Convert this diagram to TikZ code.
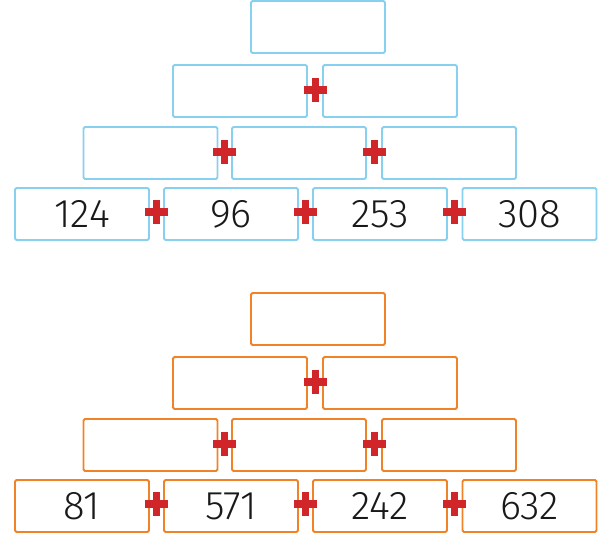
\documentclass[tikz,border=0pt]{standalone}
\usepackage{fontspec}
\setmainfont{Fira Sans Light}
\usetikzlibrary{calc}
\definecolor{boxblue}{RGB}{135,208,240}
\definecolor{boxorange}{RGB}{240,130,40}
\definecolor{plusred}{RGB}{208,38,42}
\tikzset{
  brick/.style={draw, line width=1.8pt, rounded corners=1.5pt, minimum width=134pt, minimum height=52pt, inner sep=0pt,
     font=\fontsize{40}{40}\selectfont, text=black!90},
  bluebrick/.style={brick, draw=boxblue},
  orangebrick/.style={brick, draw=boxorange},
  plussign/.pic={
    \fill[plusred] (-11.5pt,-4pt) rectangle (11.5pt,4pt);
    \fill[plusred] (-3.5pt,-12pt) rectangle (3.5pt,12pt);
  }
}
\begin{document}
\begin{tikzpicture}[x=1pt,y=-1pt]
\useasboundingbox (0,0) rectangle (599,537);
\foreach \g/\dy/\st/\a/\b/\c/\d in {b/0/bluebrick/124/96/253/308, o/292/orangebrick/81/571/242/632}{
  \node[\st] (\g00) at (318,27+\dy) {};
  \node[\st] (\g10) at (240,91+\dy) {};
  \node[\st] (\g11) at (390,91+\dy) {};
  \node[\st] (\g20) at (150.5,153+\dy) {};
  \node[\st] (\g21) at (299,153+\dy) {};
  \node[\st] (\g22) at (449,153+\dy) {};
  \node[\st] (\g30) at (82,214+\dy) {\a};
  \node[\st] (\g31) at (231,214+\dy) {\b};
  \node[\st] (\g32) at (380,214+\dy) {\c};
  \node[\st] (\g33) at (529.5,214+\dy) {\d};
  \coordinate (\g p10) at ($(\g10.east)!0.5!(\g11.west)+(0,-1)$);
  \coordinate (\g p20) at ($(\g20.east)!0.5!(\g21.west)+(0,-1)$);
  \coordinate (\g p21) at ($(\g21.east)!0.5!(\g22.west)+(0,-1)$);
  \coordinate (\g p30) at ($(\g30.east)!0.5!(\g31.west)+(0,-2)$);
  \coordinate (\g p31) at ($(\g31.east)!0.5!(\g32.west)+(0,-2)$);
  \coordinate (\g p32) at ($(\g32.east)!0.5!(\g33.west)+(0,-2)$);
  \foreach \p in {p10,p20,p21,p30,p31,p32}{
    \pic at (\g\p) {plussign};
  }
}
\end{tikzpicture}
\end{document}
